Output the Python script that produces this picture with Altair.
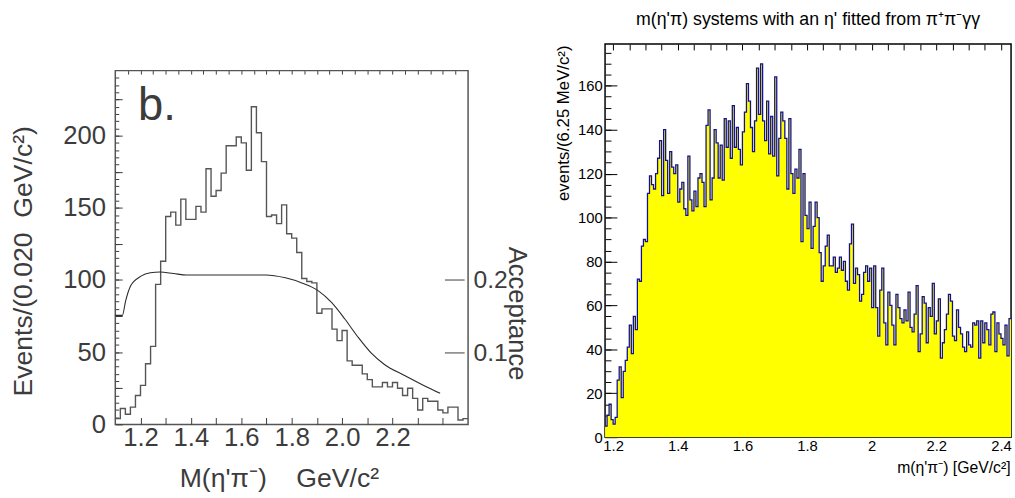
import altair as alt
import pandas as pd

# ---------------- left panel: M(eta' pi-) , 0.020 GeV/c^2 bins starting at 1.10
left_start = 1.10
left_width = 0.020
left_counts = [4, 11, 7, 12, 20, 27, 42, 54, 97, 113,
               144, 147, 138, 156, 142, 142, 151, 147, 177, 158,
               162, 174, 193, 193, 199, 195, 176, 220, 202, 182,
               144, 145, 139, 152, 132, 129, 119, 101, 99, 98,
               77, 80, 80, 66, 58, 65, 44, 41, 41, 35,
               31, 26, 26, 29, 26, 29, 25, 20, 25, 18,
               10, 18, 16, 16, 10, 8, 12, 12, 3, 4]

# acceptance curve (right-hand scale)
acc_mass = [1.100, 1.128, 1.141, 1.161, 1.174, 1.200, 1.239, 1.278, 1.331, 1.383,
            1.500, 1.697, 1.775, 1.840, 1.906, 1.958, 2.011, 2.063, 2.115, 2.168,
            2.246, 2.324, 2.389]
acc_value = [0.151, 0.151, 0.171, 0.192, 0.198, 0.205, 0.210, 0.211, 0.209, 0.207,
             0.207, 0.207, 0.203, 0.196, 0.185, 0.169, 0.146, 0.121, 0.099, 0.083,
             0.068, 0.054, 0.043]

panel_tag = ["b."]
panel_tag_mass = [1.19]
panel_tag_events = [211]

# ---------------- right panel: m(eta' pi) , 6.25 MeV/c^2 bins starting at 1.175
right_start = 1.175
right_width = 0.00625
right_counts = [
    5, 10, 15, 8, 6, 9, 26, 32, 18, 30, 35, 41, 51, 38, 55, 49, 72, 71, 87, 90,
    89, 111, 119, 115, 113, 120, 127, 135, 110, 140, 126, 111, 130, 123, 120, 124, 107, 113, 116, 104,
    101, 128, 108, 103, 112, 105, 118, 120, 116, 105,
    142, 149, 108, 118, 140, 134, 118, 133, 117, 145, 132, 144, 127, 151, 132, 141, 131, 124, 139, 148,
    161, 153, 141, 130, 144, 168, 147, 170, 144, 135, 153, 129, 146, 128, 164, 119, 136, 148, 144, 136,
    113, 145, 120, 111, 122, 118, 131, 89,
    120, 101, 95, 107, 86, 96, 107, 100, 84, 71, 78, 87, 92, 78, 78, 82, 75, 77, 82, 76,
    80, 71, 67, 88, 97, 70, 77, 74, 62, 65, 75, 78, 71, 77, 59, 78, 59, 46, 67, 77,
    52, 42, 66, 60, 51, 42, 65, 59, 54, 52,
    58, 53, 66, 50, 48, 56, 69, 39, 47, 64, 61, 43, 59, 55, 70, 47, 53, 63, 36, 43,
    49, 56, 65, 62, 46, 44, 58, 50, 47, 41, 39, 48, 42, 41, 52, 51, 53, 36, 53, 43,
    52, 49, 42, 56, 57, 39, 52, 47, 45, 42, 51, 37, 54]

left_ticks_major_x = [1.2, 1.3, 1.4, 1.5, 1.6, 1.7, 1.8, 1.9, 2.0, 2.1, 2.2, 2.3, 2.4]
left_ticks_major_y = [0, 25, 50, 75, 100, 125, 150, 175, 200, 225]
acc_ticks = [0.1, 0.2]
right_ticks_major_x = [1.2, 1.4, 1.6, 1.8, 2.0, 2.2, 2.4]
right_ticks_major_y = [0, 20, 40, 60, 80, 100, 120, 140, 160]


def step_table(start, width, counts):
    """Bin edges + counts laid out for a step-after line/area (last bin closed)."""
    edges = [round(start + i * width, 6) for i in range(len(counts) + 1)]
    return pd.DataFrame({"m": edges, "n": list(counts) + [counts[-1]]})


def minor(lo, hi, step):
    n = int(round((hi - lo) / step))
    return [round(lo + i * step, 6) for i in range(n + 1)]


GREY = "#3c3c3c"
FONT = "Liberation Sans"
NB = "\u00a0"

left_df = step_table(left_start, left_width, left_counts)
acc_df = pd.DataFrame({"m": acc_mass, "a": acc_value})
tag_df = pd.DataFrame({"m": panel_tag_mass, "n": panel_tag_events, "t": panel_tag})

lx = alt.Scale(domain=[1.1, 2.5], nice=False, zero=False)
ly_dom = [0, 245]

hist_major = alt.Chart(left_df).mark_line(
    interpolate="step-after", color="#555555", strokeWidth=1.4
).encode(
    x=alt.X("m:Q", scale=lx, axis=alt.Axis(
        values=left_ticks_major_x, offset=-7, tickSize=7, domain=False, grid=False,
        tickColor=GREY, labelColor=GREY, labelFont=FONT, labelFontSize=26, labelPadding=0,
        labelExpr="datum.value < 2.25 ? format(datum.value, '.1f') : ''",
        title="M(η'π⁻)" + NB * 4 + "GeV/c²", titleFont=FONT, titleFontSize=27,
        titleFontWeight="normal", titleColor=GREY, titleX=166, titleY=62,
        titleAlign="center", titleBaseline="middle")),
    y=alt.Y("n:Q", scale=alt.Scale(domain=ly_dom, nice=False), axis=alt.Axis(
        orient="left", values=left_ticks_major_y, offset=-7, tickSize=7, domain=False, grid=False,
        tickColor=GREY, labelColor=GREY, labelFont=FONT, labelFontSize=26, labelPadding=10,
        labelExpr="datum.value % 50 == 0 ? datum.label : ''",
        title="Events/(0.020" + NB * 2 + "GeV/c²)", titleFont=FONT, titleFontSize=27,
        titleFontWeight="normal", titleColor=GREY, titleX=-100, titleY=193,
        titleAlign="center", titleBaseline="middle", titleAngle=270)),
)

hist_minor = alt.Chart(left_df).mark_line(
    interpolate="step-after", strokeOpacity=0
).encode(
    x=alt.X("m:Q", scale=lx, axis=alt.Axis(
        values=minor(1.15, 2.45, 0.05), offset=-3.5, tickSize=3.5, domain=False, grid=False,
        labels=False, tickColor=GREY, title=None)),
    y=alt.Y("n:Q", scale=alt.Scale(domain=ly_dom, nice=False), axis=alt.Axis(
        orient="left", values=minor(5, 240, 5), offset=-3.5, tickSize=3.5, domain=False,
        grid=False, labels=False, tickColor=GREY, title=None)),
)

acc_line = alt.Chart(acc_df).mark_line(
    interpolate="monotone", color="#2a2a2a", strokeWidth=1.1
).encode(
    x=alt.X("m:Q", scale=lx, axis=None),
    y=alt.Y("a:Q", scale=alt.Scale(domain=[0, 0.49], nice=False), axis=alt.Axis(
        orient="right", values=acc_ticks, format=".1f", offset=-24, tickSize=20, domain=False,
        grid=False, tickColor=GREY, labelColor=GREY, labelFont=FONT, labelFontSize=25,
        labelPadding=9, title="Acceptance", titleFont=FONT, titleFontSize=26,
        titleFontWeight="normal", titleColor=GREY, titleX=73, titleY=246,
        titleAlign="center", titleBaseline="middle", titleAngle=90)),
)

tag = alt.Chart(tag_df).mark_text(
    align="left", baseline="alphabetic", fontSize=46, font=FONT, color=GREY
).encode(
    x=alt.X("m:Q", scale=lx, axis=None),
    y=alt.Y("n:Q", scale=alt.Scale(domain=ly_dom, nice=False), axis=None),
    text="t:N",
)

left = alt.layer(hist_major, hist_minor, acc_line, tag).resolve_scale(
    y="independent"
).resolve_axis(x="independent", y="independent").properties(
    width=358, height=359,
    view=alt.ViewBackground(stroke="#555555", strokeWidth=1.5),
)

# empty strip that lowers the left frame relative to the right one
gap = alt.Chart(pd.DataFrame({"m": [left_start]})).mark_point(opacity=0).encode(
    x=alt.X("m:Q", axis=None)
).properties(width=358, height=25, view=alt.ViewBackground(strokeOpacity=0))

left_column = alt.vconcat(gap, left, spacing=0)

# ---------------- right panel
right_df = step_table(right_start, right_width, right_counts)
rx = alt.Scale(domain=[right_start, right_start + len(right_counts) * right_width],
               nice=False, zero=False)
ry = alt.Scale(domain=[0, 179], nice=False)

fill = alt.Chart(right_df).mark_area(
    interpolate="step-after", color="#ffff00", opacity=1
).encode(
    x=alt.X("m:Q", scale=rx, axis=alt.Axis(
        values=right_ticks_major_x, offset=-12, tickSize=12, domain=False, grid=False,
        tickColor="black", labelColor="black", labelFont=FONT, labelFontSize=15,
        labelPadding=2, format=".1~f",
        title="m(η'π⁻) [GeV/c²]", titleFont=FONT, titleFontSize=16, titleFontWeight="normal",
        titleColor="black", titleX=411, titleY=43, titleAlign="right", titleBaseline="middle")),
    y=alt.Y("n:Q", scale=ry, axis=alt.Axis(
        orient="left", values=right_ticks_major_y, offset=-12, tickSize=12, domain=False,
        grid=False, tickColor="black", labelColor="black", labelFont=FONT, labelFontSize=15,
        labelPadding=3, title="events/(6.25 MeV/c²)", titleFont=FONT, titleFontSize=17,
        titleFontWeight="normal", titleColor="black", titleX=-54, titleY=1,
        titleAlign="right", titleBaseline="middle", titleAngle=270)),
)

outline = alt.Chart(right_df).mark_line(
    interpolate="step-after", color="#121290", strokeWidth=1.3
).encode(
    x=alt.X("m:Q", scale=rx, axis=alt.Axis(
        values=minor(1.2, 2.4, 0.05), offset=-6, tickSize=6, domain=False, grid=False,
        labels=False, tickColor="black", title=None)),
    y=alt.Y("n:Q", scale=ry, axis=alt.Axis(
        orient="left", values=minor(5, 175, 5), offset=-6, tickSize=6, domain=False,
        grid=False, labels=False, tickColor="black", title=None)),
)

right = alt.layer(fill, outline).resolve_axis(x="independent", y="independent").properties(
    width=412, height=399,
    title=alt.TitleParams("m(η'π) systems with an η' fitted from π⁺π⁻γγ", font=FONT,
                          fontSize=18, fontWeight="normal", anchor="middle", frame="group",
                          offset=15, color="black"),
    view=alt.ViewBackground(stroke="black", strokeWidth=1.5),
)

chart = alt.hconcat(left_column, right, spacing=24).properties(
    padding={"left": 9, "top": 6, "right": 0, "bottom": 0},
    background="white",
).configure_view(strokeWidth=1.5)

chart.save("out.html", embed_options={"renderer": "svg", "actions": False})
